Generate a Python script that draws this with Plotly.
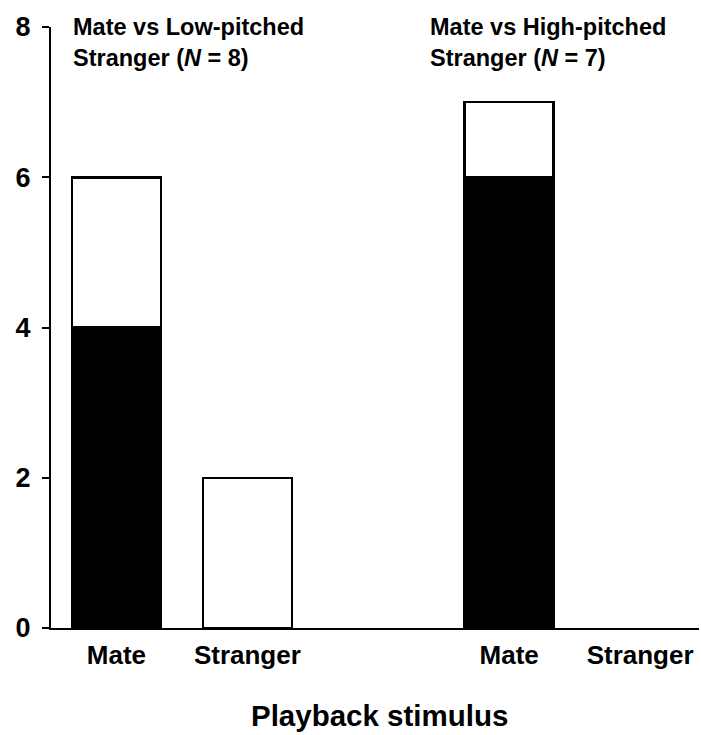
import plotly.graph_objects as go

# Data
groups = ["Mate vs Low-pitched<br>Stranger (<i>N</i> = 8)",
          "Mate vs High-pitched<br>Stranger (<i>N</i> = 7)"]
stimuli = ["Mate", "Stranger"]
# counts per group, per stimulus
black_counts = [[4, 0], [6, 0]]
white_counts = [[2, 2], [1, 0]]
y_ticks = [0, 2, 4, 6, 8]
x_title = "Playback stimulus"

FONT = "Arial, Liberation Sans, Helvetica, sans-serif"

xs, labels, blk, wht = [], [], [], []
for gi in range(len(groups)):
    for si, s in enumerate(stimuli):
        xs.append(gi * 3 + si)
        labels.append(s)
        blk.append(black_counts[gi][si])
        wht.append(white_counts[gi][si])

LW = 2.5
fig = go.Figure()
fig.add_trace(go.Bar(x=xs, y=blk, width=0.68,
                     marker=dict(color="black", line=dict(color="black", width=[LW if v else 0 for v in blk])),
                     showlegend=False, hoverinfo="skip"))
fig.add_trace(go.Bar(x=xs, y=wht, width=0.68,
                     marker=dict(color="white", line=dict(color="black", width=[LW if v else 0 for v in wht])),
                     showlegend=False, hoverinfo="skip"))

fig.add_annotation(text=groups[0], xref="x", yref="paper", x=-0.345, y=1.025,
                   xanchor="left", yanchor="top", align="left", showarrow=False,
                   font=dict(family=FONT, size=23.5, color="black", weight="bold"))
fig.add_annotation(text=groups[1], xref="x", yref="paper", x=2.38, y=1.025,
                   xanchor="left", yanchor="top", align="left", showarrow=False,
                   font=dict(family=FONT, size=23.5, color="black", weight="bold"))
fig.add_annotation(text=x_title, xref="paper", yref="paper", x=0.507, y=-0.1448,
                   xanchor="center", yanchor="middle", showarrow=False,
                   font=dict(family=FONT, size=29.5, color="black", weight="bold"))

fig.update_layout(
    barmode="stack",
    width=701, height=735,
    margin=dict(l=51, r=2, t=27, b=107, autoexpand=False),
    plot_bgcolor="white", paper_bgcolor="white",
    font=dict(family=FONT, color="black"),
)
fig.update_xaxes(
    range=[-0.5, 4.45], tickmode="array", tickvals=xs, ticktext=labels,
    showline=True, linecolor="black", linewidth=2, ticks="", showgrid=False, zeroline=False,
    tickfont=dict(family=FONT, size=26, weight="bold"), ticklabelstandoff=3, automargin=False,
)
fig.update_yaxes(
    range=[0, 8], tickmode="array", tickvals=y_ticks,
    showline=True, linecolor="black", linewidth=2, ticks="outside", ticklen=7, tickwidth=2,
    tickcolor="black", showgrid=False, zeroline=False, automargin=False,
    tickfont=dict(family=FONT, size=27, weight="bold"), ticklabelstandoff=6,
)

fig.write_html("out.html", config={"displayModeBar": False},
               post_script="document.body.style.margin='0';document.body.style.overflow='hidden';")
